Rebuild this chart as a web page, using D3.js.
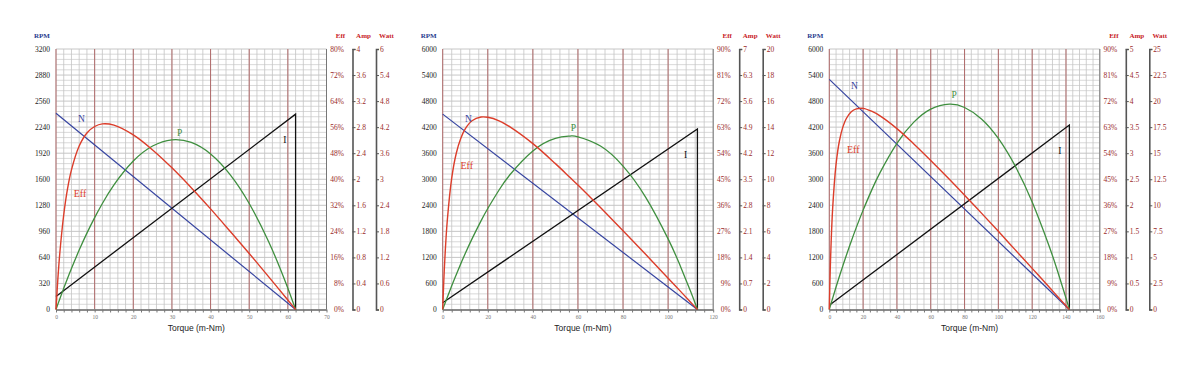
<!DOCTYPE html>
<html><head><meta charset="utf-8">
<script src="https://cdn.jsdelivr.net/npm/d3@7"></script>
<style>
body{margin:0;background:#fff;}
svg{display:block;}
</style></head>
<body><svg id="c" width="1200" height="366"></svg>
<script>
// ---------- Panel 1 ----------
const p1Torque = [0,0.5,1,2,3,4,6,8,10,12,15,20,25,30,35,40,45,50,55,58,60,62];
const p1Eff    = [0,9.7,17.5,29.1,37.2,42.9,50.2,54.2,56.2,57.0,56.6,53.6,49.0,43.5,37.4,30.9,24.1,17.2,10.1,5.8,2.9,0];
const p1Watt   = [0,0.125,0.248,0.489,0.721,0.944,1.368,1.759,2.117,2.442,2.870,3.419,3.765,3.908,3.847,3.582,3.114,2.442,1.567,0.944,0.489,0];
const p1SpeedT = [0,62];
const p1Speed  = [2410,0];
const p1AmpT   = [0,62,62];
const p1Amp    = [0.2,3.0,0];
const p1RpmTicks  = [0,320,640,960,1280,1600,1920,2240,2560,2880,3200];
const p1EffTicks  = ["0%","8%","16%","24%","32%","40%","48%","56%","64%","72%","80%"];
const p1AmpTicks  = ["0","0.4","0.8","1.2","1.6","2","2.4","2.8","3.2","3.6","4"];
const p1WattTicks = ["0","0.6","1.2","1.8","2.4","3","3.6","4.2","4.8","5.4","6"];
const p1TorqueTicks = [0,10,20,30,40,50,60,70];

// ---------- Panel 2 ----------
const p2Torque = [0,0.5,1,2,4,6,8,10,13,17,20,25,30,40,50,56.5,60,70,80,90,100,105,110,113];
const p2Eff    = [0,10.1,18.2,30.4,45.4,53.9,59.1,62.4,65.2,66.5,66.4,65.2,63.0,57.3,50.4,45.6,43.0,35.2,27.2,19.1,10.8,6.7,2.5,0];
const p2Watt   = [0,0.235,0.467,0.926,1.818,2.677,3.503,4.295,5.421,6.806,7.757,9.175,10.384,12.177,13.136,13.313,13.262,12.552,11.010,8.632,5.421,3.503,1.376,0];
const p2SpeedT = [0,113];
const p2Speed  = [4500,0];
const p2AmpT   = [0,113,113];
const p2Amp    = [0.18,4.85,0];
const p2RpmTicks  = [0,600,1200,1800,2400,3000,3600,4200,4800,5400,6000];
const p2EffTicks  = ["0%","9%","18%","27%","36%","45%","54%","63%","72%","81%","90%"];
const p2AmpTicks  = ["0","0.7","1.4","2.1","2.8","3.5","4.2","4.9","5.6","6.3","7"];
const p2WattTicks = ["0","2","4","6","8","10","12","14","16","18","20"];
const p2TorqueTicks = [0,20,40,60,80,100,120];

// ---------- Panel 3 ----------
const p3Torque = [0,0.5,1,2,4,6,8,10,13,16,20,25,30,40,50,60,71,80,90,100,110,120,130,135,140,142];
const p3Eff    = [0,12.4,21.8,35.1,50.2,58.3,63.0,65.9,68.3,69.3,69.5,68.5,66.9,62.5,57.2,51.5,45.0,39.5,33.3,27.0,20.6,14.2,7.8,4.5,1.3,0];
const p3Watt   = [0,0.277,0.551,1.094,2.158,3.189,4.190,5.159,6.555,7.880,9.537,11.433,13.133,15.947,17.980,19.230,19.703,19.387,18.292,16.416,13.758,10.319,6.098,3.694,1.094,0];
const p3SpeedT = [0,142];
const p3Speed  = [5300,0];
const p3AmpT   = [0,142,142];
const p3Amp    = [0.08,3.54,0];
const p3RpmTicks  = [0,600,1200,1800,2400,3000,3600,4200,4800,5400,6000];
const p3EffTicks  = ["0%","9%","18%","27%","36%","45%","54%","63%","72%","81%","90%"];
const p3AmpTicks  = ["0","0.5","1","1.5","2","2.5","3","3.5","4","4.5","5"];
const p3WattTicks = ["0","2.5","5","7.5","10","12.5","15","17.5","20","22.5","25"];
const p3TorqueTicks = [0,20,40,60,80,100,120,140,160];

// curve label anchors (data coordinates: torque, rpm-scale)
const p1Labels = [["N",6.6,2338],["P",32,2174],["I",59.2,2084],["Eff",6.2,1422]];
const p2Labels = [["N",11.4,4385],["P",58,4177],["I",107.7,3561],["Eff",10.7,3314]];
const p3Labels = [["N",14.8,5154],["P",73.9,4946],["I",136.3,3654],["Eff",14.2,3677]];

const panels = [
  {left:56,  tMax:70,  minor:2, rpmMax:3200, effMax:80, ampMax:4, wattMax:6,
   torque:p1Torque, eff:p1Eff, watt:p1Watt, sT:p1SpeedT, s:p1Speed, aT:p1AmpT, a:p1Amp,
   rpmTicks:p1RpmTicks, effTicks:p1EffTicks, ampTicks:p1AmpTicks, wattTicks:p1WattTicks, tTicks:p1TorqueTicks, labels:p1Labels},
  {left:442.7, tMax:120, minor:4, rpmMax:6000, effMax:90, ampMax:7, wattMax:20,
   torque:p2Torque, eff:p2Eff, watt:p2Watt, sT:p2SpeedT, s:p2Speed, aT:p2AmpT, a:p2Amp,
   rpmTicks:p2RpmTicks, effTicks:p2EffTicks, ampTicks:p2AmpTicks, wattTicks:p2WattTicks, tTicks:p2TorqueTicks, labels:p2Labels},
  {left:829.3, tMax:160, minor:4, rpmMax:6000, effMax:90, ampMax:5, wattMax:25,
   torque:p3Torque, eff:p3Eff, watt:p3Watt, sT:p3SpeedT, s:p3Speed, aT:p3AmpT, a:p3Amp,
   rpmTicks:p3RpmTicks, effTicks:p3EffTicks, ampTicks:p3AmpTicks, wattTicks:p3WattTicks, tTicks:p3TorqueTicks, labels:p3Labels}
];

const svg = d3.select("#c");
const SERIF = "'Liberation Serif','Times New Roman',serif";
const SANS = "'Liberation Sans',Arial,sans-serif";
const C = {N:"#3644a0", Eff:"#dc3d2a", P:"#3f8f3f", I:"#111111"};
const TOP = 49, BOT = 309.5, PW = 270.5;

function drawPanel(p){
  const x0 = p.left, x1 = p.left + PW;
  const x = d3.scaleLinear().domain([0,p.tMax]).range([x0,x1]);
  const yR = d3.scaleLinear().domain([0,p.rpmMax]).range([BOT,TOP]);
  const yE = d3.scaleLinear().domain([0,p.effMax]).range([BOT,TOP]);
  const yA = d3.scaleLinear().domain([0,p.ampMax]).range([BOT,TOP]);
  const yW = d3.scaleLinear().domain([0,p.wattMax]).range([BOT,TOP]);
  const g = svg.append("g");

  // horizontal grid (5 per tick interval)
  const hv = d3.range(0,51).map(k=>p.rpmMax*k/50);
  g.append("g").selectAll("line").data(hv).join("line")
    .attr("x1",x0).attr("x2",x1).attr("y1",d=>yR(d)).attr("y2",d=>yR(d))
    .attr("stroke",(d,i)=> i%5===0 ? "#b8b8b8" : "#cfcfcf").attr("stroke-width",0.8);
  // vertical minor
  const vm = d3.range(0,p.tMax+1e-6,p.minor);
  g.append("g").selectAll("line").data(vm).join("line")
    .attr("x1",d=>x(d)).attr("x2",d=>x(d)).attr("y1",TOP).attr("y2",BOT)
    .attr("stroke","#c4c4c4").attr("stroke-width",0.8);
  // vertical major
  g.append("g").selectAll("line").data(p.tTicks.filter(d=>d<p.tMax)).join("line")
    .attr("x1",d=>x(d)).attr("x2",d=>x(d)).attr("y1",TOP).attr("y2",BOT)
    .attr("stroke","#b06a6a").attr("stroke-width",1);
  // right border
  g.append("line").attr("x1",x1).attr("x2",x1).attr("y1",TOP).attr("y2",BOT)
    .attr("stroke","#777").attr("stroke-width",1);

  // bottom axis (minor ticks)
  const bx = g.append("g").attr("transform",`translate(0,${BOT})`)
    .call(d3.axisBottom(x).tickValues(vm).tickSize(3).tickSizeOuter(0).tickFormat(""));
  bx.select(".domain").attr("stroke","#8a8a8a").attr("stroke-width",2);
  bx.selectAll(".tick line").attr("stroke","#777");
  const bl = g.append("g").attr("transform",`translate(0,${BOT})`)
    .call(d3.axisBottom(x).tickValues(p.tTicks).tickSize(0).tickPadding(6).tickFormat(d3.format("d")));
  bl.select(".domain").remove();
  bl.selectAll("text").attr("font-family",SERIF).attr("font-size",5.5).attr("fill","#777");

  // left axis
  const la = g.append("g").attr("transform",`translate(${x0},0)`)
    .call(d3.axisLeft(yR).tickValues(p.rpmTicks).tickSize(0).tickPadding(6).tickFormat(d3.format("d")));
  la.select(".domain").remove();
  la.selectAll("text").attr("font-family",SERIF).attr("font-size",7.5).attr("fill","#222");

  // Eff axis (labels only)
  const effVals = p.effTicks.map((t,i)=>p.effMax*i/(p.effTicks.length-1));
  const ea = g.append("g").attr("transform",`translate(${x1},0)`)
    .call(d3.axisRight(yE).tickValues(effVals).tickSize(0).tickFormat((d,i)=>p.effTicks[i]));
  ea.select(".domain").remove();
  ea.selectAll("text").attr("text-anchor","end").attr("x",17.5)
    .attr("font-family",SERIF).attr("font-size",7.5).attr("fill","#9a2a2a");

  // Amp axis
  const ampVals = p.ampTicks.map((t,i)=>p.ampMax*i/(p.ampTicks.length-1));
  const aa = g.append("g").attr("transform",`translate(${x1+26},0)`)
    .call(d3.axisRight(yA).tickValues(ampVals).tickSize(3).tickSizeOuter(3).tickPadding(1).tickFormat((d,i)=>p.ampTicks[i]));
  aa.select(".domain").attr("stroke","#555").attr("stroke-width",1.6);
  aa.selectAll(".tick line").attr("stroke","#555");
  aa.selectAll("text").attr("font-family",SERIF).attr("font-size",7.5).attr("fill","#9a2a2a");

  // Watt axis
  const wattVals = p.wattTicks.map((t,i)=>p.wattMax*i/(p.wattTicks.length-1));
  const wa = g.append("g").attr("transform",`translate(${x1+49.5},0)`)
    .call(d3.axisRight(yW).tickValues(wattVals).tickSize(3).tickSizeOuter(3).tickPadding(1).tickFormat((d,i)=>p.wattTicks[i]));
  wa.select(".domain").attr("stroke","#555").attr("stroke-width",1.6);
  wa.selectAll(".tick line").attr("stroke","#555");
  wa.selectAll("text").attr("font-family",SERIF).attr("font-size",7.5).attr("fill","#9a2a2a");

  // headers
  const hdr = [["RPM",x0-14,"#2a3d8f"],["Eff",x1+14,"#c8201e"],["Amp",x1+37,"#c8201e"],["Watt",x1+60,"#c8201e"]];
  g.selectAll("text.hdr").data(hdr).join("text").attr("class","hdr")
    .attr("x",d=>d[1]).attr("y",38).attr("text-anchor","middle")
    .attr("font-family",SERIF).attr("font-weight","bold").attr("font-size",7).attr("fill",d=>d[2]).text(d=>d[0]);

  // x title
  g.append("text").attr("x",(x0+x1)/2+5).attr("y",331).attr("text-anchor","middle")
    .attr("font-family",SANS).attr("font-size",8.5).attr("fill","#222").text("Torque (m-Nm)");

  // series
  const lineFn = (xs,ys,yS,curve)=> d3.line().x((d,i)=>x(xs[i])).y((d,i)=>yS(ys[i])).curve(curve)(ys);
  g.append("path").attr("d",lineFn(p.sT,p.s,yR,d3.curveLinear)).attr("fill","none").attr("stroke",C.N).attr("stroke-width",1.2);
  g.append("path").attr("d",lineFn(p.aT,p.a,yA,d3.curveLinear)).attr("fill","none").attr("stroke",C.I).attr("stroke-width",1.3);
  g.append("path").attr("d",lineFn(p.torque,p.watt,yW,d3.curveNatural)).attr("fill","none").attr("stroke",C.P).attr("stroke-width",1.3);
  g.append("path").attr("d",lineFn(p.torque,p.eff,yE,d3.curveCatmullRom.alpha(0.5))).attr("fill","none").attr("stroke",C.Eff).attr("stroke-width",1.4);

  // curve labels
  g.selectAll("text.cl").data(p.labels).join("text").attr("class","cl")
    .attr("x",d=>x(d[1])).attr("y",d=>yR(d[2])).attr("dy","0.35em").attr("text-anchor","middle")
    .attr("font-family",SERIF).attr("font-size",d=>d[0]==="Eff"?10:9.5)
    .attr("fill",d=>C[d[0]]).text(d=>d[0]);
}
panels.forEach(drawPanel);
</script>
</body></html>
